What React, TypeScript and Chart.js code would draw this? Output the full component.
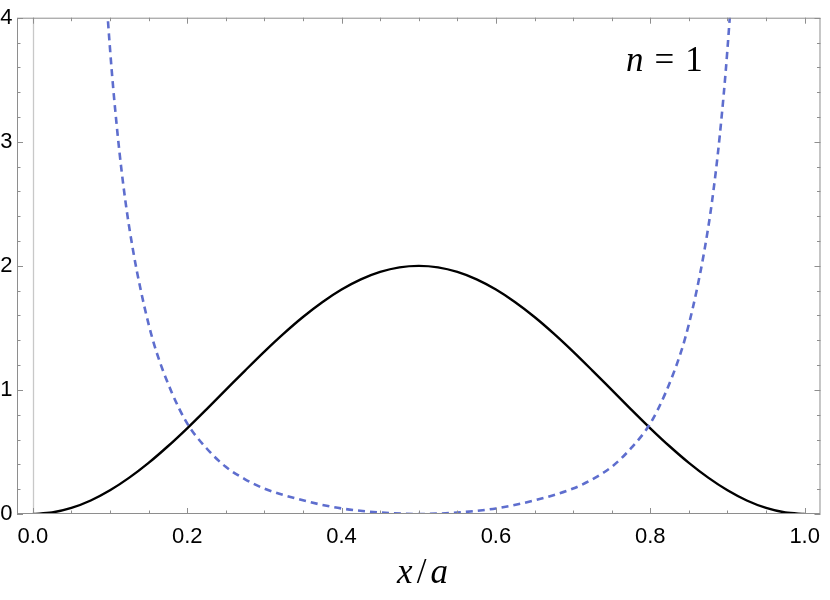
import React, { useEffect, useRef } from 'react';
import { Chart, registerables } from 'chart.js';

Chart.register(...registerables);

// Black solid curve: probability density
const xSolid = [
  0, 0.025, 0.05, 0.075, 0.1, 0.125, 0.15, 0.175, 0.2, 0.225, 0.25, 0.275, 0.3, 0.325, 0.35, 0.375, 0.4, 0.425, 0.45, 0.475, 0.5,
  0.525, 0.55, 0.575, 0.6, 0.625, 0.65, 0.675, 0.7, 0.725, 0.75, 0.775, 0.8, 0.825, 0.85, 0.875, 0.9, 0.925, 0.95, 0.975, 1,
];
const ySolid = [
  0, 0.012, 0.049, 0.109, 0.191, 0.293, 0.412, 0.546, 0.691, 0.844, 1.0, 1.156, 1.309, 1.454, 1.588, 1.707, 1.809, 1.891, 1.951, 1.988, 2.0,
  1.988, 1.951, 1.891, 1.809, 1.707, 1.588, 1.454, 1.309, 1.156, 1.0, 0.844, 0.691, 0.546, 0.412, 0.293, 0.191, 0.109, 0.049, 0.012, 0,
];

// Blue dashed curve
const xDashed = [
  0.08, 0.09, 0.1, 0.11, 0.12, 0.13, 0.14, 0.15, 0.16, 0.18, 0.2, 0.225, 0.25, 0.275, 0.3, 0.35, 0.4, 0.45, 0.5,
  0.55, 0.6, 0.65, 0.7, 0.725, 0.75, 0.775, 0.8, 0.82, 0.84, 0.85, 0.86, 0.87, 0.88, 0.89, 0.9, 0.91, 0.92,
];
const yDashed = [
  6.0, 4.7, 3.75, 3.05, 2.52, 2.12, 1.8, 1.53, 1.31, 0.98, 0.73, 0.53, 0.38, 0.28, 0.205, 0.11, 0.045, 0.012, 0,
  0.012, 0.045, 0.11, 0.205, 0.28, 0.38, 0.53, 0.73, 0.98, 1.31, 1.53, 1.8, 2.12, 2.52, 3.05, 3.75, 4.7, 6.0,
];

const xTickValues = [0, 0.2, 0.4, 0.6, 0.8, 1.0];
const xTickLabels = ['0.0', '0.2', '0.4', '0.6', '0.8', '1.0'];
const yTickValues = [0, 1, 2, 3, 4];
const yTickLabels = ['0', '1', '2', '3', '4'];
const xMinorTicks = [0.05, 0.1, 0.15, 0.25, 0.3, 0.35, 0.45, 0.5, 0.55, 0.65, 0.7, 0.75, 0.85, 0.9, 0.95];
const yMinorTicks = [0.2, 0.4, 0.6, 0.8, 1.2, 1.4, 1.6, 1.8, 2.2, 2.4, 2.6, 2.8, 3.2, 3.4, 3.6, 3.8];

const X_MIN = -0.0205;
const X_MAX = 1.0205;
const Y_MIN = 0;
const Y_MAX = 4;

const framePlugin = {
  id: 'mmaFrame',
  beforeDatasetsDraw(chart: any) {
    const { ctx, chartArea: a, scales } = chart;
    const px = Math.round(scales.x.getPixelForValue(0)) + 0.5;
    ctx.save();
    ctx.strokeStyle = '#c8c8c8';
    ctx.lineWidth = 1.3;
    ctx.beginPath();
    ctx.moveTo(px, a.top);
    ctx.lineTo(px, a.bottom);
    ctx.stroke();
    ctx.restore();
  },
  afterDatasetsDraw(chart: any) {
    const { ctx, chartArea: a, scales } = chart;
    const xs = scales.x;
    const ys = scales.y;
    ctx.save();
    ctx.strokeStyle = '#8e8e8e';
    ctx.lineWidth = 1;
    ctx.strokeRect(a.left + 0.5, a.top + 0.5, a.right - a.left - 1, a.bottom - a.top - 1);
    const major = 6;
    const minor = 3.5;
    ctx.beginPath();
    const vt = (v: number, len: number) => {
      const p = Math.round(xs.getPixelForValue(v)) + 0.5;
      ctx.moveTo(p, a.bottom);
      ctx.lineTo(p, a.bottom - len);
      ctx.moveTo(p, a.top);
      ctx.lineTo(p, a.top + len);
    };
    const ht = (v: number, len: number) => {
      const p = Math.round(ys.getPixelForValue(v)) + 0.5;
      ctx.moveTo(a.left, p);
      ctx.lineTo(a.left + len, p);
      ctx.moveTo(a.right, p);
      ctx.lineTo(a.right - len, p);
    };
    xTickValues.forEach((v) => vt(v, major));
    xMinorTicks.forEach((v) => vt(v, minor));
    yTickValues.forEach((v) => ht(v, major));
    yMinorTicks.forEach((v) => ht(v, minor));
    ctx.stroke();
    ctx.restore();
  },
};

export default function App() {
  const canvasRef = useRef<HTMLCanvasElement | null>(null);

  useEffect(() => {
    const canvas = canvasRef.current;
    if (!canvas) return;
    const chart = new Chart(canvas, {
      type: 'line',
      data: {
        datasets: [
          {
            label: 'dashed',
            data: xDashed.map((x, i) => ({ x, y: yDashed[i] })),
            borderColor: 'rgb(94,110,206)',
            borderWidth: 2.6,
            borderDash: [7, 5],
            pointRadius: 0,
            fill: false,
            cubicInterpolationMode: 'monotone',
          },
          {
            label: 'solid',
            data: xSolid.map((x, i) => ({ x, y: ySolid[i] })),
            borderColor: '#000000',
            borderWidth: 2.4,
            pointRadius: 0,
            fill: false,
            cubicInterpolationMode: 'monotone',
          },
        ],
      },
      options: {
        animation: false,
        responsive: false,
        devicePixelRatio: 1,
        layout: { padding: { left: 0, right: 2, top: 13, bottom: 0 } },
        plugins: {
          legend: { display: false },
          tooltip: { enabled: false },
        },
        scales: {
          x: {
            type: 'linear',
            min: X_MIN,
            max: X_MAX,
            grid: { display: false, drawTicks: false },
            border: { display: false },
            afterFit: (s: any) => {
              s.height = 86;
            },
            afterBuildTicks: (s: any) => {
              s.ticks = xTickValues.map((v) => ({ value: v }));
            },
            ticks: {
              padding: 10,
              color: '#000',
              font: { family: 'Liberation Sans', size: 22 },
              maxRotation: 0,
              autoSkip: false,
              callback: (v: any) => {
                const i = xTickValues.findIndex((t) => Math.abs(t - v) < 1e-9);
                return i >= 0 ? xTickLabels[i] : '';
              },
            },
          },
          y: {
            type: 'linear',
            min: Y_MIN,
            max: Y_MAX,
            grid: { display: false, drawTicks: false },
            border: { display: false },
            afterFit: (s: any) => {
              s.width = 17;
            },
            afterBuildTicks: (s: any) => {
              s.ticks = yTickValues.map((v) => ({ value: v }));
            },
            ticks: {
              padding: 4.5,
              color: '#000',
              font: { family: 'Liberation Sans', size: 22 },
              autoSkip: false,
              callback: (v: any) => {
                const i = yTickValues.findIndex((t) => Math.abs(t - v) < 1e-9);
                return i >= 0 ? yTickLabels[i] : '';
              },
            },
          },
        },
      },
      plugins: [framePlugin],
    } as any);
    return () => chart.destroy();
  }, []);

  return (
    <div style={{ position: 'absolute', left: 0, top: 0, width: 830, height: 600, background: '#fff' }}>
      <canvas ref={canvasRef} width={830} height={600} style={{ display: 'block', width: 830, height: 600 }} />
      <div
        style={{
          position: 'absolute',
          left: 322,
          width: 201,
          top: 554,
          textAlign: 'center',
          fontFamily: "'Liberation Serif', serif",
          fontSize: 35,
          lineHeight: 1,
          color: '#000',
          whiteSpace: 'nowrap',
        }}
      >
        <i style={{ marginRight: 4 }}>x</i>/<i style={{ marginLeft: 4 }}>a</i>
      </div>
      <div
        style={{
          position: 'absolute',
          left: 626,
          top: 42,
          fontFamily: "'Liberation Serif', serif",
          fontSize: 35,
          lineHeight: 1,
          color: '#000',
          whiteSpace: 'nowrap',
        }}
      >
        <i>n</i>
        <span style={{ margin: '0 11px' }}>=</span>1
      </div>
    </div>
  );
}
